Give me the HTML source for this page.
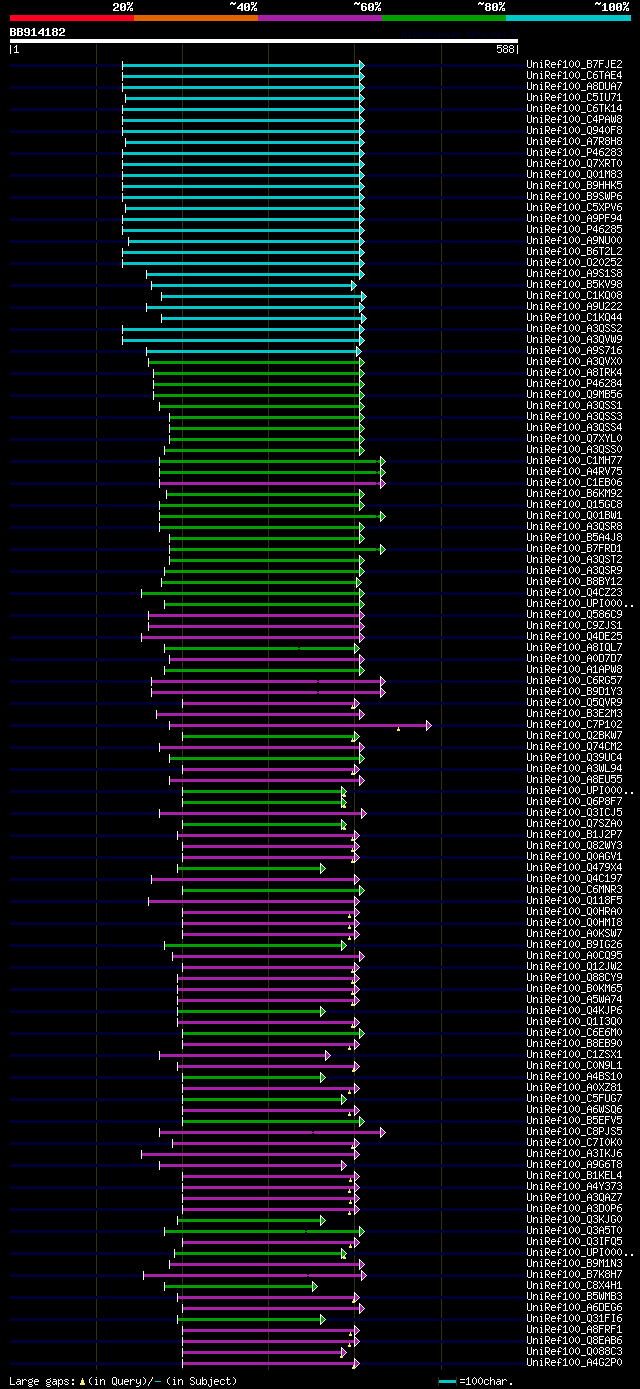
<!DOCTYPE html>
<html><head><meta charset="utf-8"><title>AlignView</title>
<style>html,body{margin:0;padding:0;background:#000;font-family:"Liberation Sans",sans-serif}svg{display:block}</style>
</head><body>
<svg width="640" height="1389" viewBox="0 0 640 1389" shape-rendering="crispEdges" fill="#fff">
<title>AlignView.pm Beta rel.7 - BB914182 (1-588)</title>
<desc>Identity legend: 20%, ~40%, ~60%, ~80%, ~100%. Query BB914182, 1 to 588. Hits: UniRef100_B7FJE2, UniRef100_C6TAE4, UniRef100_A8DUA7, UniRef100_C5IU71, UniRef100_C6TK14, UniRef100_C4PAW8, UniRef100_Q940F8, UniRef100_A7R8H8, UniRef100_P46283, UniRef100_Q7XRT0, UniRef100_Q01M83, UniRef100_B9HHK5, UniRef100_B9SWP6, UniRef100_C5XPV6, UniRef100_A9PF94, UniRef100_P46285, UniRef100_A9NU00, UniRef100_B6T2L2, UniRef100_O20252, UniRef100_A9S1S8, UniRef100_B5KV98, UniRef100_C1KQ08, UniRef100_A9U222, UniRef100_C1KQ44, UniRef100_A3QSS2, UniRef100_A3QVW9, UniRef100_A9S716, UniRef100_A3QVX0, UniRef100_A8IRK4, UniRef100_P46284, UniRef100_Q9MB56, UniRef100_A3QSS1, UniRef100_A3QSS3, UniRef100_A3QSS4, UniRef100_Q7XYL0, UniRef100_A3QSS0, UniRef100_C1MH77, UniRef100_A4RV75, UniRef100_C1EB06, UniRef100_B6KM92, UniRef100_Q15GC8, UniRef100_Q01BW1, UniRef100_A3QSR8, UniRef100_B5A4J8, UniRef100_B7FRD1, UniRef100_A3QST2, UniRef100_A3QSR9, UniRef100_B8BY12, UniRef100_Q4CZ23, UniRef100_UPI000.., UniRef100_Q586C9, UniRef100_C9ZJS1, UniRef100_Q4DE25, UniRef100_A8IQL7, UniRef100_A0D7D7, UniRef100_A1APW8, UniRef100_C6RG57, UniRef100_B9D1Y3, UniRef100_Q5QVR9, UniRef100_B3E2M3, UniRef100_C7P102, UniRef100_Q2BKW7, UniRef100_Q74CM2, UniRef100_Q39UC4, UniRef100_A3WL94, UniRef100_A8EU55, UniRef100_UPI000.., UniRef100_Q6P8F7, UniRef100_Q3ICJ5, UniRef100_Q7SZA0, UniRef100_B1J2P7, UniRef100_Q82WY3, UniRef100_Q0AGV1, UniRef100_Q479X4, UniRef100_Q4C197, UniRef100_C6MNR3, UniRef100_Q118F5, UniRef100_Q0HRA0, UniRef100_Q0HMI8, UniRef100_A0KSW7, UniRef100_B9IG26, UniRef100_A0CQ95, UniRef100_Q12JW2, UniRef100_Q88CY9, UniRef100_B0KM65, UniRef100_A5WA74, UniRef100_Q4KJP6, UniRef100_Q1I3Q0, UniRef100_C6E6M0, UniRef100_B8EB90, UniRef100_C1ZSX1, UniRef100_C0N9L1, UniRef100_A4BS10, UniRef100_A0XZ81, UniRef100_C5FUG7, UniRef100_A6WSQ6, UniRef100_B5EFV5, UniRef100_C8PJS5, UniRef100_C7I0K0, UniRef100_A3IKJ6, UniRef100_A9G6T8, UniRef100_B1KEL4, UniRef100_A4Y373, UniRef100_A3QAZ7, UniRef100_A3D0P6, UniRef100_Q3KJG0, UniRef100_Q3A5T0, UniRef100_Q3IFQ5, UniRef100_UPI000.., UniRef100_B9M1N3, UniRef100_B7K8H7, UniRef100_C8X4H1, UniRef100_B5WMB3, UniRef100_A6DEG6, UniRef100_Q31FI6, UniRef100_A8FRF1, UniRef100_Q8EAB6, UniRef100_Q088C3, UniRef100_A4G2P0. Large gaps: (in Query)/- (in Subject). =100char.</desc>
<rect width="640" height="1389" fill="#000"/>
<defs><path id="m32" d="M1 3h4v1h-4zM0 4h2v1h-2zM4 4h2v1h-2zM0 5h2v1h-2zM4 5h2v1h-2zM4 6h2v1h-2zM2 7h3v1h-3zM1 8h2v1h-2zM0 9h2v1h-2zM0 10h6v1h-6z"/><path id="m30" d="M1 3h4v1h-4zM0 4h2v1h-2zM4 4h2v1h-2zM0 5h2v1h-2zM4 5h2v1h-2zM0 6h2v1h-2zM3 6h3v1h-3zM0 7h3v1h-3zM4 7h2v1h-2zM0 8h2v1h-2zM4 8h2v1h-2zM0 9h2v1h-2zM4 9h2v1h-2zM1 10h4v1h-4z"/><path id="m25" d="M0 2h3v1h-3zM5 2h1v1h-1zM0 3h1v1h-1zM2 3h1v1h-1zM4 3h2v1h-2zM0 4h3v1h-3zM4 4h1v1h-1zM3 5h2v1h-2zM2 6h2v1h-2zM1 7h2v1h-2zM1 8h1v1h-1zM3 8h3v1h-3zM0 9h2v1h-2zM3 9h1v1h-1zM5 9h1v1h-1zM0 10h1v1h-1zM3 10h3v1h-3z"/><path id="m7e" d="M1 2h2v1h-2zM5 2h1v1h-1zM0 3h6v1h-6zM0 4h1v1h-1zM3 4h2v1h-2z"/><path id="m34" d="M4 3h2v1h-2zM3 4h3v1h-3zM2 5h4v1h-4zM1 6h2v1h-2zM4 6h2v1h-2zM0 7h2v1h-2zM4 7h2v1h-2zM0 8h6v1h-6zM4 9h2v1h-2zM4 10h2v1h-2z"/><path id="m36" d="M1 3h4v1h-4zM0 4h2v1h-2zM4 4h2v1h-2zM0 5h2v1h-2zM0 6h5v1h-5zM0 7h2v1h-2zM4 7h2v1h-2zM0 8h2v1h-2zM4 8h2v1h-2zM0 9h2v1h-2zM4 9h2v1h-2zM1 10h4v1h-4z"/><path id="m38" d="M1 3h4v1h-4zM0 4h2v1h-2zM4 4h2v1h-2zM0 5h2v1h-2zM4 5h2v1h-2zM1 6h4v1h-4zM0 7h2v1h-2zM4 7h2v1h-2zM0 8h2v1h-2zM4 8h2v1h-2zM0 9h2v1h-2zM4 9h2v1h-2zM1 10h4v1h-4z"/><path id="m31" d="M2 3h2v1h-2zM1 4h3v1h-3zM0 5h1v1h-1zM2 5h2v1h-2zM2 6h2v1h-2zM2 7h2v1h-2zM2 8h2v1h-2zM2 9h2v1h-2zM0 10h6v1h-6z"/><path id="m42" d="M0 3h5v1h-5zM0 4h2v1h-2zM4 4h2v1h-2zM0 5h2v1h-2zM4 5h2v1h-2zM0 6h5v1h-5zM0 7h2v1h-2zM4 7h2v1h-2zM0 8h2v1h-2zM4 8h2v1h-2zM0 9h2v1h-2zM4 9h2v1h-2zM0 10h5v1h-5z"/><path id="m39" d="M1 3h4v1h-4zM0 4h2v1h-2zM4 4h2v1h-2zM0 5h2v1h-2zM4 5h2v1h-2zM0 6h2v1h-2zM4 6h2v1h-2zM1 7h5v1h-5zM4 8h2v1h-2zM0 9h2v1h-2zM4 9h2v1h-2zM1 10h4v1h-4z"/><path id="t41" d="M1 1h2v1h-2zM0 2h1v1h-1zM3 2h1v1h-1zM0 3h1v1h-1zM3 3h1v1h-1zM0 4h4v1h-4zM0 5h1v1h-1zM3 5h1v1h-1zM0 6h1v1h-1zM3 6h1v1h-1z"/><path id="t6c" d="M1 1h2v1h-2zM2 2h1v1h-1zM2 3h1v1h-1zM2 4h1v1h-1zM2 5h1v1h-1zM1 6h3v1h-3z"/><path id="t69" d="M2 1h1v1h-1zM1 3h2v1h-2zM2 4h1v1h-1zM2 5h1v1h-1zM1 6h3v1h-3z"/><path id="t67" d="M1 3h3v1h-3zM0 4h1v1h-1zM3 4h1v1h-1zM1 5h3v1h-3zM3 6h1v1h-1zM1 7h2v1h-2z"/><path id="t6e" d="M0 3h1v1h-1zM2 3h1v1h-1zM0 4h2v1h-2zM3 4h1v1h-1zM0 5h1v1h-1zM3 5h1v1h-1zM0 6h1v1h-1zM3 6h1v1h-1z"/><path id="t56" d="M0 1h1v1h-1zM3 1h1v1h-1zM0 2h1v1h-1zM3 2h1v1h-1zM0 3h1v1h-1zM3 3h1v1h-1zM0 4h1v1h-1zM3 4h1v1h-1zM1 5h2v1h-2zM1 6h2v1h-2z"/><path id="t65" d="M1 3h2v1h-2zM0 4h1v1h-1zM2 4h2v1h-2zM0 5h2v1h-2zM1 6h3v1h-3z"/><path id="t77" d="M0 3h1v1h-1zM4 3h1v1h-1zM0 4h1v1h-1zM2 4h1v1h-1zM4 4h1v1h-1zM0 5h1v1h-1zM2 5h1v1h-1zM4 5h1v1h-1zM1 6h3v1h-3z"/><path id="t2e" d="M1 5h2v1h-2zM1 6h2v1h-2z"/><path id="t70" d="M0 3h3v1h-3zM0 4h1v1h-1zM3 4h1v1h-1zM0 5h3v1h-3zM0 6h1v1h-1zM0 7h1v1h-1z"/><path id="t6d" d="M0 3h2v1h-2zM3 3h1v1h-1zM0 4h1v1h-1zM2 4h1v1h-1zM4 4h1v1h-1zM0 5h1v1h-1zM2 5h1v1h-1zM4 5h1v1h-1zM0 6h1v1h-1zM4 6h1v1h-1z"/><path id="t42" d="M0 1h3v1h-3zM0 2h1v1h-1zM3 2h1v1h-1zM0 3h3v1h-3zM0 4h1v1h-1zM3 4h1v1h-1zM0 5h1v1h-1zM3 5h1v1h-1zM0 6h3v1h-3z"/><path id="t74" d="M1 1h1v1h-1zM1 2h1v1h-1zM0 3h3v1h-3zM1 4h1v1h-1zM1 5h1v1h-1zM3 5h1v1h-1zM2 6h1v1h-1z"/><path id="t61" d="M1 3h3v1h-3zM0 4h1v1h-1zM3 4h1v1h-1zM0 5h1v1h-1zM2 5h2v1h-2zM1 6h1v1h-1zM3 6h1v1h-1z"/><path id="t72" d="M0 3h1v1h-1zM2 3h1v1h-1zM0 4h2v1h-2zM3 4h1v1h-1zM0 5h1v1h-1zM0 6h1v1h-1z"/><path id="t37" d="M0 1h4v1h-4zM3 2h1v1h-1zM2 3h1v1h-1zM2 4h1v1h-1zM1 5h1v1h-1zM1 6h1v1h-1z"/><path id="s7c" d="M2 3h1v1h-1zM2 4h1v1h-1zM2 5h1v1h-1zM2 6h1v1h-1zM2 7h1v1h-1zM2 8h1v1h-1zM2 9h1v1h-1zM2 10h1v1h-1zM2 11h1v1h-1z"/><path id="s31" d="M2 3h1v1h-1zM1 4h2v1h-2zM0 5h1v1h-1zM2 5h1v1h-1zM2 6h1v1h-1zM2 7h1v1h-1zM2 8h1v1h-1zM2 9h1v1h-1zM0 10h5v1h-5z"/><path id="s35" d="M0 3h5v1h-5zM0 4h1v1h-1zM0 5h4v1h-4zM0 6h1v1h-1zM4 6h1v1h-1zM4 7h1v1h-1zM4 8h1v1h-1zM0 9h1v1h-1zM4 9h1v1h-1zM1 10h3v1h-3z"/><path id="s38" d="M1 3h3v1h-3zM0 4h1v1h-1zM4 4h1v1h-1zM0 5h1v1h-1zM4 5h1v1h-1zM1 6h3v1h-3zM0 7h1v1h-1zM4 7h1v1h-1zM0 8h1v1h-1zM4 8h1v1h-1zM0 9h1v1h-1zM4 9h1v1h-1zM1 10h3v1h-3z"/><path id="s55" d="M0 3h1v1h-1zM4 3h1v1h-1zM0 4h1v1h-1zM4 4h1v1h-1zM0 5h1v1h-1zM4 5h1v1h-1zM0 6h1v1h-1zM4 6h1v1h-1zM0 7h1v1h-1zM4 7h1v1h-1zM0 8h1v1h-1zM4 8h1v1h-1zM0 9h1v1h-1zM4 9h1v1h-1zM1 10h3v1h-3z"/><path id="s42" d="M0 3h4v1h-4zM0 4h1v1h-1zM4 4h1v1h-1zM0 5h1v1h-1zM4 5h1v1h-1zM0 6h4v1h-4zM0 7h1v1h-1zM4 7h1v1h-1zM0 8h1v1h-1zM4 8h1v1h-1zM0 9h1v1h-1zM4 9h1v1h-1zM0 10h4v1h-4z"/><path id="s37" d="M0 3h5v1h-5zM4 4h1v1h-1zM3 5h1v1h-1zM3 6h1v1h-1zM2 7h1v1h-1zM2 8h1v1h-1zM1 9h1v1h-1zM1 10h1v1h-1z"/><path id="s46" d="M0 3h5v1h-5zM0 4h1v1h-1zM0 5h1v1h-1zM0 6h4v1h-4zM0 7h1v1h-1zM0 8h1v1h-1zM0 9h1v1h-1zM0 10h1v1h-1z"/><path id="s4a" d="M3 3h1v1h-1zM3 4h1v1h-1zM3 5h1v1h-1zM3 6h1v1h-1zM3 7h1v1h-1zM3 8h1v1h-1zM0 9h1v1h-1zM3 9h1v1h-1zM1 10h2v1h-2z"/><path id="s45" d="M0 3h5v1h-5zM0 4h1v1h-1zM0 5h1v1h-1zM0 6h4v1h-4zM0 7h1v1h-1zM0 8h1v1h-1zM0 9h1v1h-1zM0 10h5v1h-5z"/><path id="s32" d="M1 3h3v1h-3zM0 4h1v1h-1zM4 4h1v1h-1zM4 5h1v1h-1zM3 6h1v1h-1zM2 7h1v1h-1zM1 8h1v1h-1zM0 9h1v1h-1zM0 10h5v1h-5z"/><path id="s43" d="M1 3h3v1h-3zM0 4h1v1h-1zM4 4h1v1h-1zM0 5h1v1h-1zM0 6h1v1h-1zM0 7h1v1h-1zM0 8h1v1h-1zM0 9h1v1h-1zM4 9h1v1h-1zM1 10h3v1h-3z"/><path id="s36" d="M2 3h3v1h-3zM1 4h1v1h-1zM0 5h1v1h-1zM0 6h4v1h-4zM0 7h1v1h-1zM4 7h1v1h-1zM0 8h1v1h-1zM4 8h1v1h-1zM0 9h1v1h-1zM4 9h1v1h-1zM1 10h3v1h-3z"/><path id="s54" d="M0 3h5v1h-5zM2 4h1v1h-1zM2 5h1v1h-1zM2 6h1v1h-1zM2 7h1v1h-1zM2 8h1v1h-1zM2 9h1v1h-1zM2 10h1v1h-1z"/><path id="s41" d="M2 3h1v1h-1zM1 4h1v1h-1zM3 4h1v1h-1zM0 5h1v1h-1zM4 5h1v1h-1zM0 6h1v1h-1zM4 6h1v1h-1zM0 7h5v1h-5zM0 8h1v1h-1zM4 8h1v1h-1zM0 9h1v1h-1zM4 9h1v1h-1zM0 10h1v1h-1zM4 10h1v1h-1z"/><path id="s34" d="M3 3h1v1h-1zM2 4h2v1h-2zM1 5h1v1h-1zM3 5h1v1h-1zM0 6h1v1h-1zM3 6h1v1h-1zM0 7h1v1h-1zM3 7h1v1h-1zM0 8h5v1h-5zM3 9h1v1h-1zM3 10h1v1h-1z"/><path id="s44" d="M0 3h4v1h-4zM0 4h1v1h-1zM4 4h1v1h-1zM0 5h1v1h-1zM4 5h1v1h-1zM0 6h1v1h-1zM4 6h1v1h-1zM0 7h1v1h-1zM4 7h1v1h-1zM0 8h1v1h-1zM4 8h1v1h-1zM0 9h1v1h-1zM4 9h1v1h-1zM0 10h4v1h-4z"/><path id="s49" d="M1 3h3v1h-3zM2 4h1v1h-1zM2 5h1v1h-1zM2 6h1v1h-1zM2 7h1v1h-1zM2 8h1v1h-1zM2 9h1v1h-1zM1 10h3v1h-3z"/><path id="s4b" d="M0 3h1v1h-1zM4 3h1v1h-1zM0 4h1v1h-1zM4 4h1v1h-1zM0 5h1v1h-1zM3 5h1v1h-1zM0 6h1v1h-1zM2 6h1v1h-1zM0 7h3v1h-3zM0 8h1v1h-1zM3 8h1v1h-1zM0 9h1v1h-1zM4 9h1v1h-1zM0 10h1v1h-1zM4 10h1v1h-1z"/><path id="s50" d="M0 3h4v1h-4zM0 4h1v1h-1zM4 4h1v1h-1zM0 5h1v1h-1zM4 5h1v1h-1zM0 6h1v1h-1zM4 6h1v1h-1zM0 7h4v1h-4zM0 8h1v1h-1zM0 9h1v1h-1zM0 10h1v1h-1z"/><path id="s57" d="M0 3h1v1h-1zM4 3h1v1h-1zM0 4h1v1h-1zM4 4h1v1h-1zM0 5h1v1h-1zM2 5h1v1h-1zM4 5h1v1h-1zM0 6h1v1h-1zM2 6h1v1h-1zM4 6h1v1h-1zM0 7h1v1h-1zM2 7h1v1h-1zM4 7h1v1h-1zM0 8h1v1h-1zM2 8h1v1h-1zM4 8h1v1h-1zM0 9h2v1h-2zM3 9h2v1h-2zM1 10h1v1h-1zM3 10h1v1h-1z"/><path id="s51" d="M1 3h3v1h-3zM0 4h1v1h-1zM4 4h1v1h-1zM0 5h1v1h-1zM4 5h1v1h-1zM0 6h1v1h-1zM4 6h1v1h-1zM0 7h1v1h-1zM4 7h1v1h-1zM0 8h1v1h-1zM4 8h1v1h-1zM0 9h1v1h-1zM2 9h1v1h-1zM4 9h1v1h-1zM1 10h3v1h-3zM4 11h1v1h-1z"/><path id="s39" d="M1 3h3v1h-3zM0 4h1v1h-1zM4 4h1v1h-1zM0 5h1v1h-1zM4 5h1v1h-1zM0 6h1v1h-1zM4 6h1v1h-1zM1 7h4v1h-4zM4 8h1v1h-1zM3 9h1v1h-1zM0 10h3v1h-3z"/><path id="s30" d="M2 3h1v1h-1zM1 4h1v1h-1zM3 4h1v1h-1zM0 5h1v1h-1zM4 5h1v1h-1zM0 6h1v1h-1zM4 6h1v1h-1zM0 7h1v1h-1zM4 7h1v1h-1zM0 8h1v1h-1zM4 8h1v1h-1zM1 9h1v1h-1zM3 9h1v1h-1zM2 10h1v1h-1z"/><path id="s52" d="M0 3h4v1h-4zM0 4h1v1h-1zM4 4h1v1h-1zM0 5h1v1h-1zM4 5h1v1h-1zM0 6h1v1h-1zM4 6h1v1h-1zM0 7h4v1h-4zM0 8h1v1h-1zM2 8h1v1h-1zM0 9h1v1h-1zM3 9h1v1h-1zM0 10h1v1h-1zM4 10h1v1h-1z"/><path id="s48" d="M0 3h1v1h-1zM4 3h1v1h-1zM0 4h1v1h-1zM4 4h1v1h-1zM0 5h1v1h-1zM4 5h1v1h-1zM0 6h5v1h-5zM0 7h1v1h-1zM4 7h1v1h-1zM0 8h1v1h-1zM4 8h1v1h-1zM0 9h1v1h-1zM4 9h1v1h-1zM0 10h1v1h-1zM4 10h1v1h-1z"/><path id="s33" d="M1 3h3v1h-3zM0 4h1v1h-1zM4 4h1v1h-1zM4 5h1v1h-1zM2 6h2v1h-2zM4 7h1v1h-1zM4 8h1v1h-1zM0 9h1v1h-1zM4 9h1v1h-1zM1 10h3v1h-3z"/><path id="s58" d="M0 3h1v1h-1zM4 3h1v1h-1zM0 4h1v1h-1zM4 4h1v1h-1zM1 5h1v1h-1zM3 5h1v1h-1zM2 6h1v1h-1zM2 7h1v1h-1zM1 8h1v1h-1zM3 8h1v1h-1zM0 9h1v1h-1zM4 9h1v1h-1zM0 10h1v1h-1zM4 10h1v1h-1z"/><path id="s4d" d="M0 3h1v1h-1zM4 3h1v1h-1zM0 4h2v1h-2zM3 4h2v1h-2zM0 5h1v1h-1zM2 5h1v1h-1zM4 5h1v1h-1zM0 6h1v1h-1zM2 6h1v1h-1zM4 6h1v1h-1zM0 7h1v1h-1zM4 7h1v1h-1zM0 8h1v1h-1zM4 8h1v1h-1zM0 9h1v1h-1zM4 9h1v1h-1zM0 10h1v1h-1zM4 10h1v1h-1z"/><path id="s53" d="M1 3h3v1h-3zM0 4h1v1h-1zM4 4h1v1h-1zM0 5h1v1h-1zM1 6h2v1h-2zM3 7h1v1h-1zM4 8h1v1h-1zM0 9h1v1h-1zM4 9h1v1h-1zM1 10h3v1h-3z"/><path id="s56" d="M0 3h1v1h-1zM4 3h1v1h-1zM0 4h1v1h-1zM4 4h1v1h-1zM0 5h1v1h-1zM4 5h1v1h-1zM1 6h1v1h-1zM3 6h1v1h-1zM1 7h1v1h-1zM3 7h1v1h-1zM1 8h1v1h-1zM3 8h1v1h-1zM2 9h1v1h-1zM2 10h1v1h-1z"/><path id="s4e" d="M0 3h1v1h-1zM4 3h1v1h-1zM0 4h2v1h-2zM4 4h1v1h-1zM0 5h2v1h-2zM4 5h1v1h-1zM0 6h1v1h-1zM2 6h1v1h-1zM4 6h1v1h-1zM0 7h1v1h-1zM2 7h1v1h-1zM4 7h1v1h-1zM0 8h1v1h-1zM3 8h2v1h-2zM0 9h1v1h-1zM3 9h2v1h-2zM0 10h1v1h-1zM4 10h1v1h-1z"/><path id="s4c" d="M0 3h1v1h-1zM0 4h1v1h-1zM0 5h1v1h-1zM0 6h1v1h-1zM0 7h1v1h-1zM0 8h1v1h-1zM0 9h1v1h-1zM0 10h5v1h-5z"/><path id="s4f" d="M1 3h3v1h-3zM0 4h1v1h-1zM4 4h1v1h-1zM0 5h1v1h-1zM4 5h1v1h-1zM0 6h1v1h-1zM4 6h1v1h-1zM0 7h1v1h-1zM4 7h1v1h-1zM0 8h1v1h-1zM4 8h1v1h-1zM0 9h1v1h-1zM4 9h1v1h-1zM1 10h3v1h-3z"/><path id="s59" d="M0 3h1v1h-1zM4 3h1v1h-1zM0 4h1v1h-1zM4 4h1v1h-1zM1 5h1v1h-1zM3 5h1v1h-1zM1 6h1v1h-1zM3 6h1v1h-1zM2 7h1v1h-1zM2 8h1v1h-1zM2 9h1v1h-1zM2 10h1v1h-1z"/><path id="s47" d="M1 3h3v1h-3zM0 4h1v1h-1zM4 4h1v1h-1zM0 5h1v1h-1zM0 6h1v1h-1zM0 7h1v1h-1zM3 7h2v1h-2zM0 8h1v1h-1zM4 8h1v1h-1zM0 9h1v1h-1zM4 9h1v1h-1zM1 10h3v1h-3z"/><path id="s5a" d="M0 3h5v1h-5zM4 4h1v1h-1zM3 5h1v1h-1zM2 6h1v1h-1zM2 7h1v1h-1zM1 8h1v1h-1zM0 9h1v1h-1zM0 10h5v1h-5z"/><path id="s2e" d="M2 9h2v1h-2zM2 10h2v1h-2z"/><path id="s61" d="M1 5h3v1h-3zM4 6h1v1h-1zM1 7h4v1h-4zM0 8h1v1h-1zM4 8h1v1h-1zM0 9h1v1h-1zM3 9h2v1h-2zM1 10h2v1h-2zM4 10h1v1h-1z"/><path id="s72" d="M0 5h1v1h-1zM2 5h2v1h-2zM0 6h2v1h-2zM4 6h1v1h-1zM0 7h1v1h-1zM0 8h1v1h-1zM0 9h1v1h-1zM0 10h1v1h-1z"/><path id="s67" d="M4 4h1v1h-1zM1 5h3v1h-3zM0 6h1v1h-1zM4 6h1v1h-1zM0 7h1v1h-1zM4 7h1v1h-1zM1 8h3v1h-3zM0 9h1v1h-1zM1 10h3v1h-3zM0 11h1v1h-1zM4 11h1v1h-1zM1 12h3v1h-3z"/><path id="s65" d="M1 5h3v1h-3zM0 6h1v1h-1zM4 6h1v1h-1zM0 7h5v1h-5zM0 8h1v1h-1zM0 9h1v1h-1zM1 10h3v1h-3z"/><path id="s70" d="M0 5h1v1h-1zM2 5h2v1h-2zM0 6h2v1h-2zM4 6h1v1h-1zM0 7h1v1h-1zM4 7h1v1h-1zM0 8h1v1h-1zM4 8h1v1h-1zM0 9h2v1h-2zM4 9h1v1h-1zM0 10h1v1h-1zM2 10h2v1h-2zM0 11h1v1h-1zM0 12h1v1h-1z"/><path id="s73" d="M1 5h3v1h-3zM0 6h1v1h-1zM4 6h1v1h-1zM1 7h2v1h-2zM3 8h1v1h-1zM0 9h1v1h-1zM4 9h1v1h-1zM1 10h3v1h-3z"/><path id="s3a" d="M2 5h2v1h-2zM2 6h2v1h-2zM2 9h2v1h-2zM2 10h2v1h-2z"/><path id="s28" d="M3 3h1v1h-1zM2 4h1v1h-1zM1 5h1v1h-1zM1 6h1v1h-1zM1 7h1v1h-1zM1 8h1v1h-1zM2 9h1v1h-1zM3 10h1v1h-1z"/><path id="s69" d="M2 3h1v1h-1zM1 5h2v1h-2zM2 6h1v1h-1zM2 7h1v1h-1zM2 8h1v1h-1zM2 9h1v1h-1zM1 10h3v1h-3z"/><path id="s6e" d="M0 5h1v1h-1zM2 5h2v1h-2zM0 6h2v1h-2zM4 6h1v1h-1zM0 7h1v1h-1zM4 7h1v1h-1zM0 8h1v1h-1zM4 8h1v1h-1zM0 9h1v1h-1zM4 9h1v1h-1zM0 10h1v1h-1zM4 10h1v1h-1z"/><path id="s75" d="M0 5h1v1h-1zM4 5h1v1h-1zM0 6h1v1h-1zM4 6h1v1h-1zM0 7h1v1h-1zM4 7h1v1h-1zM0 8h1v1h-1zM4 8h1v1h-1zM0 9h1v1h-1zM3 9h2v1h-2zM1 10h2v1h-2zM4 10h1v1h-1z"/><path id="s79" d="M0 5h1v1h-1zM4 5h1v1h-1zM0 6h1v1h-1zM4 6h1v1h-1zM0 7h1v1h-1zM4 7h1v1h-1zM0 8h1v1h-1zM3 8h2v1h-2zM1 9h2v1h-2zM4 9h1v1h-1zM4 10h1v1h-1zM3 11h1v1h-1zM0 12h3v1h-3z"/><path id="s29" d="M1 3h1v1h-1zM2 4h1v1h-1zM3 5h1v1h-1zM3 6h1v1h-1zM3 7h1v1h-1zM3 8h1v1h-1zM2 9h1v1h-1zM1 10h1v1h-1z"/><path id="s2f" d="M4 3h1v1h-1zM4 4h1v1h-1zM3 5h1v1h-1zM3 6h1v1h-1zM2 7h1v1h-1zM1 8h1v1h-1zM1 9h1v1h-1zM0 10h1v1h-1zM0 11h1v1h-1z"/><path id="s62" d="M0 3h1v1h-1zM0 4h1v1h-1zM0 5h1v1h-1zM2 5h2v1h-2zM0 6h2v1h-2zM4 6h1v1h-1zM0 7h1v1h-1zM4 7h1v1h-1zM0 8h1v1h-1zM4 8h1v1h-1zM0 9h2v1h-2zM4 9h1v1h-1zM0 10h1v1h-1zM2 10h2v1h-2z"/><path id="s6a" d="M3 3h1v1h-1zM2 5h2v1h-2zM3 6h1v1h-1zM3 7h1v1h-1zM3 8h1v1h-1zM3 9h1v1h-1zM0 10h1v1h-1zM3 10h1v1h-1zM0 11h1v1h-1zM3 11h1v1h-1zM1 12h2v1h-2z"/><path id="s63" d="M1 5h3v1h-3zM0 6h1v1h-1zM4 6h1v1h-1zM0 7h1v1h-1zM0 8h1v1h-1zM0 9h1v1h-1zM4 9h1v1h-1zM1 10h3v1h-3z"/><path id="s74" d="M1 3h1v1h-1zM1 4h1v1h-1zM0 5h4v1h-4zM1 6h1v1h-1zM1 7h1v1h-1zM1 8h1v1h-1zM1 9h1v1h-1zM4 9h1v1h-1zM2 10h2v1h-2z"/><path id="s3d" d="M0 5h5v1h-5zM0 8h5v1h-5z"/><path id="s68" d="M0 3h1v1h-1zM0 4h1v1h-1zM0 5h1v1h-1zM2 5h2v1h-2zM0 6h2v1h-2zM4 6h1v1h-1zM0 7h1v1h-1zM4 7h1v1h-1zM0 8h1v1h-1zM4 8h1v1h-1zM0 9h1v1h-1zM4 9h1v1h-1zM0 10h1v1h-1zM4 10h1v1h-1z"/><path id="s66" d="M2 3h2v1h-2zM1 4h1v1h-1zM4 4h1v1h-1zM1 5h1v1h-1zM1 6h1v1h-1zM0 7h4v1h-4zM1 8h1v1h-1zM1 9h1v1h-1zM1 10h1v1h-1z"/><path id="s5f" d="M0 11h5v1h-5z"/><g id="pre"><use href="#s55" x="0"/><use href="#s6e" x="6"/><use href="#s69" x="12"/><use href="#s52" x="18"/><use href="#s65" x="24"/><use href="#s66" x="30"/><use href="#s31" x="36"/><use href="#s30" x="42"/><use href="#s30" x="48"/><use href="#s5f" x="54"/></g><path id="ao" d="M0 -5h1v11h-1zM1 -4h1v1h-1zM1 4h1v1h-1zM2 -3h1v1h-1zM2 3h1v1h-1zM3 -2h1v1h-1zM3 2h1v1h-1zM4 -1h1v1h-1zM4 1h1v1h-1zM5 0h1v1h-1z"/><path id="af" d="M1 -3h1v7h-1zM2 -2h1v5h-1zM3 -1h1v3h-1zM4 0h1v1h-1z"/></defs>
<rect x="10" y="15" width="124" height="6" fill="#ff0020"/>
<use href="#m32" x="113" y="0"/><use href="#m30" x="120" y="0"/><use href="#m25" x="127" y="0"/>
<rect x="134" y="15" width="124" height="6" fill="#e06400"/>
<use href="#m7e" x="230" y="0"/><use href="#m34" x="237" y="0"/><use href="#m30" x="244" y="0"/><use href="#m25" x="251" y="0"/>
<rect x="258" y="15" width="124" height="6" fill="#a820a8"/>
<use href="#m7e" x="354" y="0"/><use href="#m36" x="361" y="0"/><use href="#m30" x="368" y="0"/><use href="#m25" x="375" y="0"/>
<rect x="382" y="15" width="124" height="6" fill="#00a000"/>
<use href="#m7e" x="478" y="0"/><use href="#m38" x="485" y="0"/><use href="#m30" x="492" y="0"/><use href="#m25" x="499" y="0"/>
<rect x="506" y="15" width="125" height="6" fill="#00c8c8"/>
<use href="#m7e" x="595" y="0"/><use href="#m31" x="602" y="0"/><use href="#m30" x="609" y="0"/><use href="#m30" x="616" y="0"/><use href="#m25" x="623" y="0"/>
<use href="#m42" x="10" y="25"/><use href="#m42" x="17" y="25"/><use href="#m39" x="24" y="25"/><use href="#m31" x="31" y="25"/><use href="#m34" x="38" y="25"/><use href="#m31" x="45" y="25"/><use href="#m38" x="52" y="25"/><use href="#m32" x="59" y="25"/>
<g fill="#000034"><use href="#t41" x="402" y="30"/><use href="#t6c" x="407" y="30"/><use href="#t69" x="412" y="30"/><use href="#t67" x="417" y="30"/><use href="#t6e" x="422" y="30"/><use href="#t56" x="427" y="30"/><use href="#t69" x="432" y="30"/><use href="#t65" x="437" y="30"/><use href="#t77" x="442" y="30"/><use href="#t2e" x="447" y="30"/><use href="#t70" x="452" y="30"/><use href="#t6d" x="457" y="30"/><use href="#t42" x="467" y="30"/><use href="#t65" x="472" y="30"/><use href="#t74" x="477" y="30"/><use href="#t61" x="482" y="30"/><use href="#t72" x="492" y="30"/><use href="#t65" x="497" y="30"/><use href="#t6c" x="502" y="30"/><use href="#t2e" x="507" y="30"/><use href="#t37" x="512" y="30"/></g>
<rect x="10" y="39" width="508" height="4" fill="#fff"/>
<use href="#s7c" x="8" y="42"/><use href="#s31" x="14" y="42"/>
<use href="#s35" x="497" y="42"/><use href="#s38" x="503" y="42"/><use href="#s38" x="509" y="42"/><use href="#s7c" x="515" y="42"/>
<rect x="96" y="44" width="1" height="1326" fill="#333300"/>
<rect x="182" y="44" width="1" height="1326" fill="#333300"/>
<rect x="268" y="44" width="1" height="1326" fill="#333300"/>
<rect x="354" y="44" width="1" height="1326" fill="#333300"/>
<rect x="441" y="44" width="1" height="1326" fill="#333300"/>
<path fill="#000034" d="M10 64h112v3h-112zM365 64h162v3h-162zM10 86h112v3h-112zM365 86h162v3h-162zM10 108h112v3h-112zM365 108h162v3h-162zM10 130h112v3h-112zM365 130h162v3h-162zM10 152h112v3h-112zM365 152h162v3h-162zM10 174h112v3h-112zM365 174h162v3h-162zM10 196h112v3h-112zM365 196h162v3h-162zM10 218h112v3h-112zM365 218h162v3h-162zM10 240h118v3h-118zM365 240h162v3h-162zM10 262h112v3h-112zM365 262h162v3h-162zM10 284h141v3h-141zM357 284h170v3h-170zM10 306h136v3h-136zM365 306h162v3h-162zM10 328h112v3h-112zM365 328h162v3h-162zM10 350h136v3h-136zM362 350h165v3h-165zM10 372h143v3h-143zM365 372h162v3h-162zM10 394h143v3h-143zM365 394h162v3h-162zM10 416h159v3h-159zM365 416h162v3h-162zM10 438h159v3h-159zM365 438h162v3h-162zM10 460h149v3h-149zM386 460h141v3h-141zM10 482h149v3h-149zM386 482h141v3h-141zM10 504h149v3h-149zM365 504h162v3h-162zM10 526h149v3h-149zM365 526h162v3h-162zM10 548h159v3h-159zM386 548h141v3h-141zM10 570h154v3h-154zM365 570h162v3h-162zM10 592h131v3h-131zM365 592h162v3h-162zM10 614h138v3h-138zM365 614h162v3h-162zM10 636h131v3h-131zM365 636h162v3h-162zM10 658h159v3h-159zM365 658h162v3h-162zM10 680h141v3h-141zM386 680h141v3h-141zM10 702h172v3h-172zM360 702h167v3h-167zM10 724h159v3h-159zM432 724h95v3h-95zM10 746h149v3h-149zM365 746h162v3h-162zM10 768h172v3h-172zM360 768h167v3h-167zM10 790h172v3h-172zM347 790h180v3h-180zM10 812h149v3h-149zM367 812h160v3h-160zM10 834h167v3h-167zM360 834h167v3h-167zM10 856h172v3h-172zM360 856h167v3h-167zM10 878h141v3h-141zM360 878h167v3h-167zM10 900h138v3h-138zM360 900h167v3h-167zM10 922h172v3h-172zM360 922h167v3h-167zM10 944h154v3h-154zM347 944h180v3h-180zM10 966h172v3h-172zM360 966h167v3h-167zM10 988h167v3h-167zM360 988h167v3h-167zM10 1010h167v3h-167zM326 1010h201v3h-201zM10 1032h172v3h-172zM365 1032h162v3h-162zM10 1054h149v3h-149zM331 1054h196v3h-196zM10 1076h172v3h-172zM326 1076h201v3h-201zM10 1098h172v3h-172zM347 1098h180v3h-180zM10 1120h172v3h-172zM365 1120h162v3h-162zM10 1142h162v3h-162zM360 1142h167v3h-167zM10 1164h149v3h-149zM347 1164h180v3h-180zM10 1186h172v3h-172zM360 1186h167v3h-167zM10 1208h172v3h-172zM360 1208h167v3h-167zM10 1230h154v3h-154zM365 1230h162v3h-162zM10 1252h164v3h-164zM347 1252h180v3h-180zM10 1274h133v3h-133zM367 1274h160v3h-160zM10 1296h167v3h-167zM360 1296h167v3h-167zM10 1318h167v3h-167zM326 1318h201v3h-201zM10 1340h172v3h-172zM360 1340h167v3h-167zM10 1362h172v3h-172zM360 1362h167v3h-167z"/>
<path fill="#00c8c8" d="M123 64h236v3h-236zM123 75h236v3h-236zM123 86h236v3h-236zM126 97h233v3h-233zM123 108h236v3h-236zM123 119h236v3h-236zM123 130h236v3h-236zM126 141h233v3h-233zM123 152h236v3h-236zM123 163h236v3h-236zM123 174h236v3h-236zM123 185h236v3h-236zM123 196h236v3h-236zM126 207h233v3h-233zM123 218h236v3h-236zM123 229h236v3h-236zM129 240h230v3h-230zM123 251h236v3h-236zM123 262h236v3h-236zM147 273h212v3h-212zM152 284h199v3h-199zM162 295h199v3h-199zM147 306h212v3h-212zM162 317h199v3h-199zM123 328h236v3h-236zM123 339h236v3h-236zM147 350h209v3h-209z"/>
<path fill="#00a000" d="M149 361h210v3h-210zM154 372h205v3h-205zM154 383h205v3h-205zM154 394h205v3h-205zM160 405h199v3h-199zM170 416h189v3h-189zM170 427h189v3h-189zM170 438h189v3h-189zM165 449h194v3h-194zM160 460h216v3h-216zM376 461h2v1h-2zM378 460h2v3h-2zM160 471h216v3h-216zM376 472h2v1h-2zM378 471h2v3h-2zM167 493h192v3h-192zM160 504h199v3h-199zM160 515h216v3h-216zM376 516h2v1h-2zM378 515h2v3h-2zM160 526h199v3h-199zM170 537h189v3h-189zM170 548h206v3h-206zM376 549h2v1h-2zM378 548h2v3h-2zM170 559h189v3h-189zM165 570h194v3h-194zM162 581h194v3h-194zM142 592h217v3h-217zM165 603h194v3h-194zM165 647h133v3h-133zM298 648h2v1h-2zM300 647h54v3h-54zM165 669h194v3h-194zM183 735h171v3h-171zM170 757h189v3h-189zM183 790h158v3h-158zM183 801h158v3h-158zM183 823h158v3h-158zM178 867h142v3h-142zM183 889h176v3h-176zM165 944h176v3h-176zM178 1010h142v3h-142zM183 1032h176v3h-176zM183 1076h137v3h-137zM183 1098h158v3h-158zM183 1120h176v3h-176zM178 1219h142v3h-142zM165 1230h140v3h-140zM305 1231h2v1h-2zM307 1230h52v3h-52zM175 1252h166v3h-166zM165 1285h147v3h-147zM178 1318h142v3h-142z"/>
<path fill="#a820a8" d="M160 482h216v3h-216zM376 483h2v1h-2zM378 482h2v3h-2zM149 614h210v3h-210zM149 625h210v3h-210zM142 636h217v3h-217zM170 658h189v3h-189zM152 680h165v3h-165zM317 681h2v1h-2zM319 680h61v3h-61zM152 691h165v3h-165zM317 692h2v1h-2zM319 691h61v3h-61zM183 702h171v3h-171zM157 713h202v3h-202zM170 724h256v3h-256zM160 746h199v3h-199zM183 768h171v3h-171zM170 779h189v3h-189zM160 812h201v3h-201zM178 834h176v3h-176zM183 845h171v3h-171zM183 856h171v3h-171zM152 878h202v3h-202zM149 900h205v3h-205zM183 911h171v3h-171zM183 922h171v3h-171zM183 933h171v3h-171zM173 955h186v3h-186zM183 966h171v3h-171zM178 977h176v3h-176zM178 988h176v3h-176zM178 999h176v3h-176zM178 1021h176v3h-176zM183 1043h171v3h-171zM160 1054h165v3h-165zM178 1065h176v3h-176zM183 1087h171v3h-171zM183 1109h171v3h-171zM160 1131h152v3h-152zM312 1132h2v1h-2zM314 1131h66v3h-66zM173 1142h181v3h-181zM142 1153h212v3h-212zM160 1164h181v3h-181zM183 1175h171v3h-171zM183 1186h171v3h-171zM183 1197h171v3h-171zM183 1208h171v3h-171zM183 1241h171v3h-171zM170 1263h189v3h-189zM144 1274h163v3h-163zM307 1275h2v1h-2zM309 1274h52v3h-52zM178 1296h176v3h-176zM183 1307h176v3h-176zM183 1329h171v3h-171zM183 1340h171v3h-171zM183 1351h158v3h-158zM183 1362h171v3h-171z"/>
<path d="M122 61h1v9h-1zM122 72h1v9h-1zM122 83h1v9h-1zM125 94h1v9h-1zM122 105h1v9h-1zM122 116h1v9h-1zM122 127h1v9h-1zM125 138h1v9h-1zM122 149h1v9h-1zM122 160h1v9h-1zM122 171h1v9h-1zM122 182h1v9h-1zM122 193h1v9h-1zM125 204h1v9h-1zM122 215h1v9h-1zM122 226h1v9h-1zM128 237h1v9h-1zM122 248h1v9h-1zM122 259h1v9h-1zM146 270h1v9h-1zM151 281h1v9h-1zM161 292h1v9h-1zM146 303h1v9h-1zM161 314h1v9h-1zM122 325h1v9h-1zM122 336h1v9h-1zM146 347h1v9h-1zM148 358h1v9h-1zM153 369h1v9h-1zM153 380h1v9h-1zM153 391h1v9h-1zM159 402h1v9h-1zM169 413h1v9h-1zM169 424h1v9h-1zM169 435h1v9h-1zM164 446h1v9h-1zM159 457h1v9h-1zM159 468h1v9h-1zM159 479h1v9h-1zM166 490h1v9h-1zM159 501h1v9h-1zM159 512h1v9h-1zM159 523h1v9h-1zM169 534h1v9h-1zM169 545h1v9h-1zM169 556h1v9h-1zM164 567h1v9h-1zM161 578h1v9h-1zM141 589h1v9h-1zM164 600h1v9h-1zM148 611h1v9h-1zM148 622h1v9h-1zM141 633h1v9h-1zM164 644h1v9h-1zM169 655h1v9h-1zM164 666h1v9h-1zM151 677h1v9h-1zM151 688h1v9h-1zM182 699h1v9h-1zM156 710h1v9h-1zM169 721h1v9h-1zM182 732h1v9h-1zM159 743h1v9h-1zM169 754h1v9h-1zM182 765h1v9h-1zM169 776h1v9h-1zM182 787h1v9h-1zM182 798h1v9h-1zM159 809h1v9h-1zM182 820h1v9h-1zM177 831h1v9h-1zM182 842h1v9h-1zM182 853h1v9h-1zM177 864h1v9h-1zM151 875h1v9h-1zM182 886h1v9h-1zM148 897h1v9h-1zM182 908h1v9h-1zM182 919h1v9h-1zM182 930h1v9h-1zM164 941h1v9h-1zM172 952h1v9h-1zM182 963h1v9h-1zM177 974h1v9h-1zM177 985h1v9h-1zM177 996h1v9h-1zM177 1007h1v9h-1zM177 1018h1v9h-1zM182 1029h1v9h-1zM182 1040h1v9h-1zM159 1051h1v9h-1zM177 1062h1v9h-1zM182 1073h1v9h-1zM182 1084h1v9h-1zM182 1095h1v9h-1zM182 1106h1v9h-1zM182 1117h1v9h-1zM159 1128h1v9h-1zM172 1139h1v9h-1zM141 1150h1v9h-1zM159 1161h1v9h-1zM182 1172h1v9h-1zM182 1183h1v9h-1zM182 1194h1v9h-1zM182 1205h1v9h-1zM177 1216h1v9h-1zM164 1227h1v9h-1zM182 1238h1v9h-1zM174 1249h1v9h-1zM169 1260h1v9h-1zM143 1271h1v9h-1zM164 1282h1v9h-1zM177 1293h1v9h-1zM182 1304h1v9h-1zM177 1315h1v9h-1zM182 1326h1v9h-1zM182 1337h1v9h-1zM182 1348h1v9h-1zM182 1359h1v9h-1z"/>
<use href="#af" x="359" y="65" fill="#00c8c8"/><use href="#ao" x="359" y="65"/><use href="#af" x="359" y="76" fill="#00c8c8"/><use href="#ao" x="359" y="76"/><use href="#af" x="359" y="87" fill="#00c8c8"/><use href="#ao" x="359" y="87"/><use href="#af" x="359" y="98" fill="#00c8c8"/><use href="#ao" x="359" y="98"/><use href="#af" x="359" y="109" fill="#00c8c8"/><use href="#ao" x="359" y="109"/><use href="#af" x="359" y="120" fill="#00c8c8"/><use href="#ao" x="359" y="120"/><use href="#af" x="359" y="131" fill="#00c8c8"/><use href="#ao" x="359" y="131"/><use href="#af" x="359" y="142" fill="#00c8c8"/><use href="#ao" x="359" y="142"/><use href="#af" x="359" y="153" fill="#00c8c8"/><use href="#ao" x="359" y="153"/><use href="#af" x="359" y="164" fill="#00c8c8"/><use href="#ao" x="359" y="164"/><use href="#af" x="359" y="175" fill="#00c8c8"/><use href="#ao" x="359" y="175"/><use href="#af" x="359" y="186" fill="#00c8c8"/><use href="#ao" x="359" y="186"/><use href="#af" x="359" y="197" fill="#00c8c8"/><use href="#ao" x="359" y="197"/><use href="#af" x="359" y="208" fill="#00c8c8"/><use href="#ao" x="359" y="208"/><use href="#af" x="359" y="219" fill="#00c8c8"/><use href="#ao" x="359" y="219"/><use href="#af" x="359" y="230" fill="#00c8c8"/><use href="#ao" x="359" y="230"/><use href="#af" x="359" y="241" fill="#00c8c8"/><use href="#ao" x="359" y="241"/><use href="#af" x="359" y="252" fill="#00c8c8"/><use href="#ao" x="359" y="252"/><use href="#af" x="359" y="263" fill="#00c8c8"/><use href="#ao" x="359" y="263"/><use href="#af" x="359" y="274" fill="#00c8c8"/><use href="#ao" x="359" y="274"/><use href="#af" x="351" y="285" fill="#00c8c8"/><use href="#ao" x="351" y="285"/><use href="#af" x="361" y="296" fill="#00c8c8"/><use href="#ao" x="361" y="296"/><use href="#af" x="359" y="307" fill="#00c8c8"/><use href="#ao" x="359" y="307"/><use href="#af" x="361" y="318" fill="#00c8c8"/><use href="#ao" x="361" y="318"/><use href="#af" x="359" y="329" fill="#00c8c8"/><use href="#ao" x="359" y="329"/><use href="#af" x="359" y="340" fill="#00c8c8"/><use href="#ao" x="359" y="340"/><use href="#af" x="356" y="351" fill="#00c8c8"/><use href="#ao" x="356" y="351"/><use href="#af" x="359" y="362" fill="#00a000"/><use href="#ao" x="359" y="362"/><use href="#af" x="359" y="373" fill="#00a000"/><use href="#ao" x="359" y="373"/><use href="#af" x="359" y="384" fill="#00a000"/><use href="#ao" x="359" y="384"/><use href="#af" x="359" y="395" fill="#00a000"/><use href="#ao" x="359" y="395"/><use href="#af" x="359" y="406" fill="#00a000"/><use href="#ao" x="359" y="406"/><use href="#af" x="359" y="417" fill="#00a000"/><use href="#ao" x="359" y="417"/><use href="#af" x="359" y="428" fill="#00a000"/><use href="#ao" x="359" y="428"/><use href="#af" x="359" y="439" fill="#00a000"/><use href="#ao" x="359" y="439"/><use href="#af" x="359" y="450" fill="#00a000"/><use href="#ao" x="359" y="450"/><use href="#af" x="380" y="461" fill="#00a000"/><use href="#ao" x="380" y="461"/><use href="#af" x="380" y="472" fill="#00a000"/><use href="#ao" x="380" y="472"/><use href="#af" x="380" y="483" fill="#a820a8"/><use href="#ao" x="380" y="483"/><use href="#af" x="359" y="494" fill="#00a000"/><use href="#ao" x="359" y="494"/><use href="#af" x="359" y="505" fill="#00a000"/><use href="#ao" x="359" y="505"/><use href="#af" x="380" y="516" fill="#00a000"/><use href="#ao" x="380" y="516"/><use href="#af" x="359" y="527" fill="#00a000"/><use href="#ao" x="359" y="527"/><use href="#af" x="359" y="538" fill="#00a000"/><use href="#ao" x="359" y="538"/><use href="#af" x="380" y="549" fill="#00a000"/><use href="#ao" x="380" y="549"/><use href="#af" x="359" y="560" fill="#00a000"/><use href="#ao" x="359" y="560"/><use href="#af" x="359" y="571" fill="#00a000"/><use href="#ao" x="359" y="571"/><use href="#af" x="356" y="582" fill="#00a000"/><use href="#ao" x="356" y="582"/><use href="#af" x="359" y="593" fill="#00a000"/><use href="#ao" x="359" y="593"/><use href="#af" x="359" y="604" fill="#00a000"/><use href="#ao" x="359" y="604"/><use href="#af" x="359" y="615" fill="#a820a8"/><use href="#ao" x="359" y="615"/><use href="#af" x="359" y="626" fill="#a820a8"/><use href="#ao" x="359" y="626"/><use href="#af" x="359" y="637" fill="#a820a8"/><use href="#ao" x="359" y="637"/><use href="#af" x="354" y="648" fill="#00a000"/><use href="#ao" x="354" y="648"/><use href="#af" x="359" y="659" fill="#a820a8"/><use href="#ao" x="359" y="659"/><use href="#af" x="359" y="670" fill="#00a000"/><use href="#ao" x="359" y="670"/><use href="#af" x="380" y="681" fill="#a820a8"/><use href="#ao" x="380" y="681"/><use href="#af" x="380" y="692" fill="#a820a8"/><use href="#ao" x="380" y="692"/><use href="#af" x="354" y="703" fill="#a820a8"/><use href="#ao" x="354" y="703"/><use href="#af" x="359" y="714" fill="#a820a8"/><use href="#ao" x="359" y="714"/><use href="#af" x="426" y="725" fill="#a820a8"/><use href="#ao" x="426" y="725"/><use href="#af" x="354" y="736" fill="#00a000"/><use href="#ao" x="354" y="736"/><use href="#af" x="359" y="747" fill="#a820a8"/><use href="#ao" x="359" y="747"/><use href="#af" x="359" y="758" fill="#00a000"/><use href="#ao" x="359" y="758"/><use href="#af" x="354" y="769" fill="#a820a8"/><use href="#ao" x="354" y="769"/><use href="#af" x="359" y="780" fill="#a820a8"/><use href="#ao" x="359" y="780"/><use href="#af" x="341" y="791" fill="#00a000"/><use href="#ao" x="341" y="791"/><use href="#af" x="341" y="802" fill="#00a000"/><use href="#ao" x="341" y="802"/><use href="#af" x="361" y="813" fill="#a820a8"/><use href="#ao" x="361" y="813"/><use href="#af" x="341" y="824" fill="#00a000"/><use href="#ao" x="341" y="824"/><use href="#af" x="354" y="835" fill="#a820a8"/><use href="#ao" x="354" y="835"/><use href="#af" x="354" y="846" fill="#a820a8"/><use href="#ao" x="354" y="846"/><use href="#af" x="354" y="857" fill="#a820a8"/><use href="#ao" x="354" y="857"/><use href="#af" x="320" y="868" fill="#00a000"/><use href="#ao" x="320" y="868"/><use href="#af" x="354" y="879" fill="#a820a8"/><use href="#ao" x="354" y="879"/><use href="#af" x="359" y="890" fill="#00a000"/><use href="#ao" x="359" y="890"/><use href="#af" x="354" y="901" fill="#a820a8"/><use href="#ao" x="354" y="901"/><use href="#af" x="354" y="912" fill="#a820a8"/><use href="#ao" x="354" y="912"/><use href="#af" x="354" y="923" fill="#a820a8"/><use href="#ao" x="354" y="923"/><use href="#af" x="354" y="934" fill="#a820a8"/><use href="#ao" x="354" y="934"/><use href="#af" x="341" y="945" fill="#00a000"/><use href="#ao" x="341" y="945"/><use href="#af" x="359" y="956" fill="#a820a8"/><use href="#ao" x="359" y="956"/><use href="#af" x="354" y="967" fill="#a820a8"/><use href="#ao" x="354" y="967"/><use href="#af" x="354" y="978" fill="#a820a8"/><use href="#ao" x="354" y="978"/><use href="#af" x="354" y="989" fill="#a820a8"/><use href="#ao" x="354" y="989"/><use href="#af" x="354" y="1000" fill="#a820a8"/><use href="#ao" x="354" y="1000"/><use href="#af" x="320" y="1011" fill="#00a000"/><use href="#ao" x="320" y="1011"/><use href="#af" x="354" y="1022" fill="#a820a8"/><use href="#ao" x="354" y="1022"/><use href="#af" x="359" y="1033" fill="#00a000"/><use href="#ao" x="359" y="1033"/><use href="#af" x="354" y="1044" fill="#a820a8"/><use href="#ao" x="354" y="1044"/><use href="#af" x="325" y="1055" fill="#a820a8"/><use href="#ao" x="325" y="1055"/><use href="#af" x="354" y="1066" fill="#a820a8"/><use href="#ao" x="354" y="1066"/><use href="#af" x="320" y="1077" fill="#00a000"/><use href="#ao" x="320" y="1077"/><use href="#af" x="354" y="1088" fill="#a820a8"/><use href="#ao" x="354" y="1088"/><use href="#af" x="341" y="1099" fill="#00a000"/><use href="#ao" x="341" y="1099"/><use href="#af" x="354" y="1110" fill="#a820a8"/><use href="#ao" x="354" y="1110"/><use href="#af" x="359" y="1121" fill="#00a000"/><use href="#ao" x="359" y="1121"/><use href="#af" x="380" y="1132" fill="#a820a8"/><use href="#ao" x="380" y="1132"/><use href="#af" x="354" y="1143" fill="#a820a8"/><use href="#ao" x="354" y="1143"/><use href="#af" x="354" y="1154" fill="#a820a8"/><use href="#ao" x="354" y="1154"/><use href="#af" x="341" y="1165" fill="#a820a8"/><use href="#ao" x="341" y="1165"/><use href="#af" x="354" y="1176" fill="#a820a8"/><use href="#ao" x="354" y="1176"/><use href="#af" x="354" y="1187" fill="#a820a8"/><use href="#ao" x="354" y="1187"/><use href="#af" x="354" y="1198" fill="#a820a8"/><use href="#ao" x="354" y="1198"/><use href="#af" x="354" y="1209" fill="#a820a8"/><use href="#ao" x="354" y="1209"/><use href="#af" x="320" y="1220" fill="#00a000"/><use href="#ao" x="320" y="1220"/><use href="#af" x="359" y="1231" fill="#00a000"/><use href="#ao" x="359" y="1231"/><use href="#af" x="354" y="1242" fill="#a820a8"/><use href="#ao" x="354" y="1242"/><use href="#af" x="341" y="1253" fill="#00a000"/><use href="#ao" x="341" y="1253"/><use href="#af" x="359" y="1264" fill="#a820a8"/><use href="#ao" x="359" y="1264"/><use href="#af" x="361" y="1275" fill="#a820a8"/><use href="#ao" x="361" y="1275"/><use href="#af" x="312" y="1286" fill="#00a000"/><use href="#ao" x="312" y="1286"/><use href="#af" x="354" y="1297" fill="#a820a8"/><use href="#ao" x="354" y="1297"/><use href="#af" x="359" y="1308" fill="#a820a8"/><use href="#ao" x="359" y="1308"/><use href="#af" x="320" y="1319" fill="#00a000"/><use href="#ao" x="320" y="1319"/><use href="#af" x="354" y="1330" fill="#a820a8"/><use href="#ao" x="354" y="1330"/><use href="#af" x="354" y="1341" fill="#a820a8"/><use href="#ao" x="354" y="1341"/><use href="#af" x="341" y="1352" fill="#a820a8"/><use href="#ao" x="341" y="1352"/><use href="#af" x="354" y="1363" fill="#a820a8"/><use href="#ao" x="354" y="1363"/>
<path fill="#f4ec68" d="M352 705h1v2h1v2h-3v-2h1zM398 727h1v2h1v2h-3v-2h1zM352 738h1v2h1v2h-3v-2h1zM352 771h1v2h1v2h-3v-2h1zM344 793h1v2h1v2h-3v-2h1zM344 804h1v2h1v2h-3v-2h1zM344 826h1v2h1v2h-3v-2h1zM352 837h1v2h1v2h-3v-2h1zM352 848h1v2h1v2h-3v-2h1zM352 859h1v2h1v2h-3v-2h1zM349 914h1v2h1v2h-3v-2h1zM349 925h1v2h1v2h-3v-2h1zM349 936h1v2h1v2h-3v-2h1zM352 969h1v2h1v2h-3v-2h1zM352 980h1v2h1v2h-3v-2h1zM352 991h1v2h1v2h-3v-2h1zM352 1002h1v2h1v2h-3v-2h1zM352 1024h1v2h1v2h-3v-2h1zM349 1046h1v2h1v2h-3v-2h1zM353 1068h1v2h1v2h-3v-2h1zM349 1090h1v2h1v2h-3v-2h1zM349 1112h1v2h1v2h-3v-2h1zM352 1145h1v2h1v2h-3v-2h1zM350 1178h1v2h1v2h-3v-2h1zM349 1189h1v2h1v2h-3v-2h1zM350 1200h1v2h1v2h-3v-2h1zM349 1211h1v2h1v2h-3v-2h1zM350 1244h1v2h1v2h-3v-2h1zM344 1255h1v2h1v2h-3v-2h1zM353 1299h1v2h1v2h-3v-2h1zM350 1332h1v2h1v2h-3v-2h1zM349 1343h1v2h1v2h-3v-2h1zM341 1354h1v2h1v2h-3v-2h1zM353 1365h1v2h1v2h-3v-2h1z"/>
<use href="#pre" x="527" y="57"/><use href="#s42" x="587" y="57"/><use href="#s37" x="593" y="57"/><use href="#s46" x="599" y="57"/><use href="#s4a" x="605" y="57"/><use href="#s45" x="611" y="57"/><use href="#s32" x="617" y="57"/>
<use href="#pre" x="527" y="68"/><use href="#s43" x="587" y="68"/><use href="#s36" x="593" y="68"/><use href="#s54" x="599" y="68"/><use href="#s41" x="605" y="68"/><use href="#s45" x="611" y="68"/><use href="#s34" x="617" y="68"/>
<use href="#pre" x="527" y="79"/><use href="#s41" x="587" y="79"/><use href="#s38" x="593" y="79"/><use href="#s44" x="599" y="79"/><use href="#s55" x="605" y="79"/><use href="#s41" x="611" y="79"/><use href="#s37" x="617" y="79"/>
<use href="#pre" x="527" y="90"/><use href="#s43" x="587" y="90"/><use href="#s35" x="593" y="90"/><use href="#s49" x="599" y="90"/><use href="#s55" x="605" y="90"/><use href="#s37" x="611" y="90"/><use href="#s31" x="617" y="90"/>
<use href="#pre" x="527" y="101"/><use href="#s43" x="587" y="101"/><use href="#s36" x="593" y="101"/><use href="#s54" x="599" y="101"/><use href="#s4b" x="605" y="101"/><use href="#s31" x="611" y="101"/><use href="#s34" x="617" y="101"/>
<use href="#pre" x="527" y="112"/><use href="#s43" x="587" y="112"/><use href="#s34" x="593" y="112"/><use href="#s50" x="599" y="112"/><use href="#s41" x="605" y="112"/><use href="#s57" x="611" y="112"/><use href="#s38" x="617" y="112"/>
<use href="#pre" x="527" y="123"/><use href="#s51" x="587" y="123"/><use href="#s39" x="593" y="123"/><use href="#s34" x="599" y="123"/><use href="#s30" x="605" y="123"/><use href="#s46" x="611" y="123"/><use href="#s38" x="617" y="123"/>
<use href="#pre" x="527" y="134"/><use href="#s41" x="587" y="134"/><use href="#s37" x="593" y="134"/><use href="#s52" x="599" y="134"/><use href="#s38" x="605" y="134"/><use href="#s48" x="611" y="134"/><use href="#s38" x="617" y="134"/>
<use href="#pre" x="527" y="145"/><use href="#s50" x="587" y="145"/><use href="#s34" x="593" y="145"/><use href="#s36" x="599" y="145"/><use href="#s32" x="605" y="145"/><use href="#s38" x="611" y="145"/><use href="#s33" x="617" y="145"/>
<use href="#pre" x="527" y="156"/><use href="#s51" x="587" y="156"/><use href="#s37" x="593" y="156"/><use href="#s58" x="599" y="156"/><use href="#s52" x="605" y="156"/><use href="#s54" x="611" y="156"/><use href="#s30" x="617" y="156"/>
<use href="#pre" x="527" y="167"/><use href="#s51" x="587" y="167"/><use href="#s30" x="593" y="167"/><use href="#s31" x="599" y="167"/><use href="#s4d" x="605" y="167"/><use href="#s38" x="611" y="167"/><use href="#s33" x="617" y="167"/>
<use href="#pre" x="527" y="178"/><use href="#s42" x="587" y="178"/><use href="#s39" x="593" y="178"/><use href="#s48" x="599" y="178"/><use href="#s48" x="605" y="178"/><use href="#s4b" x="611" y="178"/><use href="#s35" x="617" y="178"/>
<use href="#pre" x="527" y="189"/><use href="#s42" x="587" y="189"/><use href="#s39" x="593" y="189"/><use href="#s53" x="599" y="189"/><use href="#s57" x="605" y="189"/><use href="#s50" x="611" y="189"/><use href="#s36" x="617" y="189"/>
<use href="#pre" x="527" y="200"/><use href="#s43" x="587" y="200"/><use href="#s35" x="593" y="200"/><use href="#s58" x="599" y="200"/><use href="#s50" x="605" y="200"/><use href="#s56" x="611" y="200"/><use href="#s36" x="617" y="200"/>
<use href="#pre" x="527" y="211"/><use href="#s41" x="587" y="211"/><use href="#s39" x="593" y="211"/><use href="#s50" x="599" y="211"/><use href="#s46" x="605" y="211"/><use href="#s39" x="611" y="211"/><use href="#s34" x="617" y="211"/>
<use href="#pre" x="527" y="222"/><use href="#s50" x="587" y="222"/><use href="#s34" x="593" y="222"/><use href="#s36" x="599" y="222"/><use href="#s32" x="605" y="222"/><use href="#s38" x="611" y="222"/><use href="#s35" x="617" y="222"/>
<use href="#pre" x="527" y="233"/><use href="#s41" x="587" y="233"/><use href="#s39" x="593" y="233"/><use href="#s4e" x="599" y="233"/><use href="#s55" x="605" y="233"/><use href="#s30" x="611" y="233"/><use href="#s30" x="617" y="233"/>
<use href="#pre" x="527" y="244"/><use href="#s42" x="587" y="244"/><use href="#s36" x="593" y="244"/><use href="#s54" x="599" y="244"/><use href="#s32" x="605" y="244"/><use href="#s4c" x="611" y="244"/><use href="#s32" x="617" y="244"/>
<use href="#pre" x="527" y="255"/><use href="#s4f" x="587" y="255"/><use href="#s32" x="593" y="255"/><use href="#s30" x="599" y="255"/><use href="#s32" x="605" y="255"/><use href="#s35" x="611" y="255"/><use href="#s32" x="617" y="255"/>
<use href="#pre" x="527" y="266"/><use href="#s41" x="587" y="266"/><use href="#s39" x="593" y="266"/><use href="#s53" x="599" y="266"/><use href="#s31" x="605" y="266"/><use href="#s53" x="611" y="266"/><use href="#s38" x="617" y="266"/>
<use href="#pre" x="527" y="277"/><use href="#s42" x="587" y="277"/><use href="#s35" x="593" y="277"/><use href="#s4b" x="599" y="277"/><use href="#s56" x="605" y="277"/><use href="#s39" x="611" y="277"/><use href="#s38" x="617" y="277"/>
<use href="#pre" x="527" y="288"/><use href="#s43" x="587" y="288"/><use href="#s31" x="593" y="288"/><use href="#s4b" x="599" y="288"/><use href="#s51" x="605" y="288"/><use href="#s30" x="611" y="288"/><use href="#s38" x="617" y="288"/>
<use href="#pre" x="527" y="299"/><use href="#s41" x="587" y="299"/><use href="#s39" x="593" y="299"/><use href="#s55" x="599" y="299"/><use href="#s32" x="605" y="299"/><use href="#s32" x="611" y="299"/><use href="#s32" x="617" y="299"/>
<use href="#pre" x="527" y="310"/><use href="#s43" x="587" y="310"/><use href="#s31" x="593" y="310"/><use href="#s4b" x="599" y="310"/><use href="#s51" x="605" y="310"/><use href="#s34" x="611" y="310"/><use href="#s34" x="617" y="310"/>
<use href="#pre" x="527" y="321"/><use href="#s41" x="587" y="321"/><use href="#s33" x="593" y="321"/><use href="#s51" x="599" y="321"/><use href="#s53" x="605" y="321"/><use href="#s53" x="611" y="321"/><use href="#s32" x="617" y="321"/>
<use href="#pre" x="527" y="332"/><use href="#s41" x="587" y="332"/><use href="#s33" x="593" y="332"/><use href="#s51" x="599" y="332"/><use href="#s56" x="605" y="332"/><use href="#s57" x="611" y="332"/><use href="#s39" x="617" y="332"/>
<use href="#pre" x="527" y="343"/><use href="#s41" x="587" y="343"/><use href="#s39" x="593" y="343"/><use href="#s53" x="599" y="343"/><use href="#s37" x="605" y="343"/><use href="#s31" x="611" y="343"/><use href="#s36" x="617" y="343"/>
<use href="#pre" x="527" y="354"/><use href="#s41" x="587" y="354"/><use href="#s33" x="593" y="354"/><use href="#s51" x="599" y="354"/><use href="#s56" x="605" y="354"/><use href="#s58" x="611" y="354"/><use href="#s30" x="617" y="354"/>
<use href="#pre" x="527" y="365"/><use href="#s41" x="587" y="365"/><use href="#s38" x="593" y="365"/><use href="#s49" x="599" y="365"/><use href="#s52" x="605" y="365"/><use href="#s4b" x="611" y="365"/><use href="#s34" x="617" y="365"/>
<use href="#pre" x="527" y="376"/><use href="#s50" x="587" y="376"/><use href="#s34" x="593" y="376"/><use href="#s36" x="599" y="376"/><use href="#s32" x="605" y="376"/><use href="#s38" x="611" y="376"/><use href="#s34" x="617" y="376"/>
<use href="#pre" x="527" y="387"/><use href="#s51" x="587" y="387"/><use href="#s39" x="593" y="387"/><use href="#s4d" x="599" y="387"/><use href="#s42" x="605" y="387"/><use href="#s35" x="611" y="387"/><use href="#s36" x="617" y="387"/>
<use href="#pre" x="527" y="398"/><use href="#s41" x="587" y="398"/><use href="#s33" x="593" y="398"/><use href="#s51" x="599" y="398"/><use href="#s53" x="605" y="398"/><use href="#s53" x="611" y="398"/><use href="#s31" x="617" y="398"/>
<use href="#pre" x="527" y="409"/><use href="#s41" x="587" y="409"/><use href="#s33" x="593" y="409"/><use href="#s51" x="599" y="409"/><use href="#s53" x="605" y="409"/><use href="#s53" x="611" y="409"/><use href="#s33" x="617" y="409"/>
<use href="#pre" x="527" y="420"/><use href="#s41" x="587" y="420"/><use href="#s33" x="593" y="420"/><use href="#s51" x="599" y="420"/><use href="#s53" x="605" y="420"/><use href="#s53" x="611" y="420"/><use href="#s34" x="617" y="420"/>
<use href="#pre" x="527" y="431"/><use href="#s51" x="587" y="431"/><use href="#s37" x="593" y="431"/><use href="#s58" x="599" y="431"/><use href="#s59" x="605" y="431"/><use href="#s4c" x="611" y="431"/><use href="#s30" x="617" y="431"/>
<use href="#pre" x="527" y="442"/><use href="#s41" x="587" y="442"/><use href="#s33" x="593" y="442"/><use href="#s51" x="599" y="442"/><use href="#s53" x="605" y="442"/><use href="#s53" x="611" y="442"/><use href="#s30" x="617" y="442"/>
<use href="#pre" x="527" y="453"/><use href="#s43" x="587" y="453"/><use href="#s31" x="593" y="453"/><use href="#s4d" x="599" y="453"/><use href="#s48" x="605" y="453"/><use href="#s37" x="611" y="453"/><use href="#s37" x="617" y="453"/>
<use href="#pre" x="527" y="464"/><use href="#s41" x="587" y="464"/><use href="#s34" x="593" y="464"/><use href="#s52" x="599" y="464"/><use href="#s56" x="605" y="464"/><use href="#s37" x="611" y="464"/><use href="#s35" x="617" y="464"/>
<use href="#pre" x="527" y="475"/><use href="#s43" x="587" y="475"/><use href="#s31" x="593" y="475"/><use href="#s45" x="599" y="475"/><use href="#s42" x="605" y="475"/><use href="#s30" x="611" y="475"/><use href="#s36" x="617" y="475"/>
<use href="#pre" x="527" y="486"/><use href="#s42" x="587" y="486"/><use href="#s36" x="593" y="486"/><use href="#s4b" x="599" y="486"/><use href="#s4d" x="605" y="486"/><use href="#s39" x="611" y="486"/><use href="#s32" x="617" y="486"/>
<use href="#pre" x="527" y="497"/><use href="#s51" x="587" y="497"/><use href="#s31" x="593" y="497"/><use href="#s35" x="599" y="497"/><use href="#s47" x="605" y="497"/><use href="#s43" x="611" y="497"/><use href="#s38" x="617" y="497"/>
<use href="#pre" x="527" y="508"/><use href="#s51" x="587" y="508"/><use href="#s30" x="593" y="508"/><use href="#s31" x="599" y="508"/><use href="#s42" x="605" y="508"/><use href="#s57" x="611" y="508"/><use href="#s31" x="617" y="508"/>
<use href="#pre" x="527" y="519"/><use href="#s41" x="587" y="519"/><use href="#s33" x="593" y="519"/><use href="#s51" x="599" y="519"/><use href="#s53" x="605" y="519"/><use href="#s52" x="611" y="519"/><use href="#s38" x="617" y="519"/>
<use href="#pre" x="527" y="530"/><use href="#s42" x="587" y="530"/><use href="#s35" x="593" y="530"/><use href="#s41" x="599" y="530"/><use href="#s34" x="605" y="530"/><use href="#s4a" x="611" y="530"/><use href="#s38" x="617" y="530"/>
<use href="#pre" x="527" y="541"/><use href="#s42" x="587" y="541"/><use href="#s37" x="593" y="541"/><use href="#s46" x="599" y="541"/><use href="#s52" x="605" y="541"/><use href="#s44" x="611" y="541"/><use href="#s31" x="617" y="541"/>
<use href="#pre" x="527" y="552"/><use href="#s41" x="587" y="552"/><use href="#s33" x="593" y="552"/><use href="#s51" x="599" y="552"/><use href="#s53" x="605" y="552"/><use href="#s54" x="611" y="552"/><use href="#s32" x="617" y="552"/>
<use href="#pre" x="527" y="563"/><use href="#s41" x="587" y="563"/><use href="#s33" x="593" y="563"/><use href="#s51" x="599" y="563"/><use href="#s53" x="605" y="563"/><use href="#s52" x="611" y="563"/><use href="#s39" x="617" y="563"/>
<use href="#pre" x="527" y="574"/><use href="#s42" x="587" y="574"/><use href="#s38" x="593" y="574"/><use href="#s42" x="599" y="574"/><use href="#s59" x="605" y="574"/><use href="#s31" x="611" y="574"/><use href="#s32" x="617" y="574"/>
<use href="#pre" x="527" y="585"/><use href="#s51" x="587" y="585"/><use href="#s34" x="593" y="585"/><use href="#s43" x="599" y="585"/><use href="#s5a" x="605" y="585"/><use href="#s32" x="611" y="585"/><use href="#s33" x="617" y="585"/>
<use href="#pre" x="527" y="596"/><use href="#s55" x="587" y="596"/><use href="#s50" x="593" y="596"/><use href="#s49" x="599" y="596"/><use href="#s30" x="605" y="596"/><use href="#s30" x="611" y="596"/><use href="#s30" x="617" y="596"/><use href="#s2e" x="623" y="596"/><use href="#s2e" x="629" y="596"/>
<use href="#pre" x="527" y="607"/><use href="#s51" x="587" y="607"/><use href="#s35" x="593" y="607"/><use href="#s38" x="599" y="607"/><use href="#s36" x="605" y="607"/><use href="#s43" x="611" y="607"/><use href="#s39" x="617" y="607"/>
<use href="#pre" x="527" y="618"/><use href="#s43" x="587" y="618"/><use href="#s39" x="593" y="618"/><use href="#s5a" x="599" y="618"/><use href="#s4a" x="605" y="618"/><use href="#s53" x="611" y="618"/><use href="#s31" x="617" y="618"/>
<use href="#pre" x="527" y="629"/><use href="#s51" x="587" y="629"/><use href="#s34" x="593" y="629"/><use href="#s44" x="599" y="629"/><use href="#s45" x="605" y="629"/><use href="#s32" x="611" y="629"/><use href="#s35" x="617" y="629"/>
<use href="#pre" x="527" y="640"/><use href="#s41" x="587" y="640"/><use href="#s38" x="593" y="640"/><use href="#s49" x="599" y="640"/><use href="#s51" x="605" y="640"/><use href="#s4c" x="611" y="640"/><use href="#s37" x="617" y="640"/>
<use href="#pre" x="527" y="651"/><use href="#s41" x="587" y="651"/><use href="#s30" x="593" y="651"/><use href="#s44" x="599" y="651"/><use href="#s37" x="605" y="651"/><use href="#s44" x="611" y="651"/><use href="#s37" x="617" y="651"/>
<use href="#pre" x="527" y="662"/><use href="#s41" x="587" y="662"/><use href="#s31" x="593" y="662"/><use href="#s41" x="599" y="662"/><use href="#s50" x="605" y="662"/><use href="#s57" x="611" y="662"/><use href="#s38" x="617" y="662"/>
<use href="#pre" x="527" y="673"/><use href="#s43" x="587" y="673"/><use href="#s36" x="593" y="673"/><use href="#s52" x="599" y="673"/><use href="#s47" x="605" y="673"/><use href="#s35" x="611" y="673"/><use href="#s37" x="617" y="673"/>
<use href="#pre" x="527" y="684"/><use href="#s42" x="587" y="684"/><use href="#s39" x="593" y="684"/><use href="#s44" x="599" y="684"/><use href="#s31" x="605" y="684"/><use href="#s59" x="611" y="684"/><use href="#s33" x="617" y="684"/>
<use href="#pre" x="527" y="695"/><use href="#s51" x="587" y="695"/><use href="#s35" x="593" y="695"/><use href="#s51" x="599" y="695"/><use href="#s56" x="605" y="695"/><use href="#s52" x="611" y="695"/><use href="#s39" x="617" y="695"/>
<use href="#pre" x="527" y="706"/><use href="#s42" x="587" y="706"/><use href="#s33" x="593" y="706"/><use href="#s45" x="599" y="706"/><use href="#s32" x="605" y="706"/><use href="#s4d" x="611" y="706"/><use href="#s33" x="617" y="706"/>
<use href="#pre" x="527" y="717"/><use href="#s43" x="587" y="717"/><use href="#s37" x="593" y="717"/><use href="#s50" x="599" y="717"/><use href="#s31" x="605" y="717"/><use href="#s30" x="611" y="717"/><use href="#s32" x="617" y="717"/>
<use href="#pre" x="527" y="728"/><use href="#s51" x="587" y="728"/><use href="#s32" x="593" y="728"/><use href="#s42" x="599" y="728"/><use href="#s4b" x="605" y="728"/><use href="#s57" x="611" y="728"/><use href="#s37" x="617" y="728"/>
<use href="#pre" x="527" y="739"/><use href="#s51" x="587" y="739"/><use href="#s37" x="593" y="739"/><use href="#s34" x="599" y="739"/><use href="#s43" x="605" y="739"/><use href="#s4d" x="611" y="739"/><use href="#s32" x="617" y="739"/>
<use href="#pre" x="527" y="750"/><use href="#s51" x="587" y="750"/><use href="#s33" x="593" y="750"/><use href="#s39" x="599" y="750"/><use href="#s55" x="605" y="750"/><use href="#s43" x="611" y="750"/><use href="#s34" x="617" y="750"/>
<use href="#pre" x="527" y="761"/><use href="#s41" x="587" y="761"/><use href="#s33" x="593" y="761"/><use href="#s57" x="599" y="761"/><use href="#s4c" x="605" y="761"/><use href="#s39" x="611" y="761"/><use href="#s34" x="617" y="761"/>
<use href="#pre" x="527" y="772"/><use href="#s41" x="587" y="772"/><use href="#s38" x="593" y="772"/><use href="#s45" x="599" y="772"/><use href="#s55" x="605" y="772"/><use href="#s35" x="611" y="772"/><use href="#s35" x="617" y="772"/>
<use href="#pre" x="527" y="783"/><use href="#s55" x="587" y="783"/><use href="#s50" x="593" y="783"/><use href="#s49" x="599" y="783"/><use href="#s30" x="605" y="783"/><use href="#s30" x="611" y="783"/><use href="#s30" x="617" y="783"/><use href="#s2e" x="623" y="783"/><use href="#s2e" x="629" y="783"/>
<use href="#pre" x="527" y="794"/><use href="#s51" x="587" y="794"/><use href="#s36" x="593" y="794"/><use href="#s50" x="599" y="794"/><use href="#s38" x="605" y="794"/><use href="#s46" x="611" y="794"/><use href="#s37" x="617" y="794"/>
<use href="#pre" x="527" y="805"/><use href="#s51" x="587" y="805"/><use href="#s33" x="593" y="805"/><use href="#s49" x="599" y="805"/><use href="#s43" x="605" y="805"/><use href="#s4a" x="611" y="805"/><use href="#s35" x="617" y="805"/>
<use href="#pre" x="527" y="816"/><use href="#s51" x="587" y="816"/><use href="#s37" x="593" y="816"/><use href="#s53" x="599" y="816"/><use href="#s5a" x="605" y="816"/><use href="#s41" x="611" y="816"/><use href="#s30" x="617" y="816"/>
<use href="#pre" x="527" y="827"/><use href="#s42" x="587" y="827"/><use href="#s31" x="593" y="827"/><use href="#s4a" x="599" y="827"/><use href="#s32" x="605" y="827"/><use href="#s50" x="611" y="827"/><use href="#s37" x="617" y="827"/>
<use href="#pre" x="527" y="838"/><use href="#s51" x="587" y="838"/><use href="#s38" x="593" y="838"/><use href="#s32" x="599" y="838"/><use href="#s57" x="605" y="838"/><use href="#s59" x="611" y="838"/><use href="#s33" x="617" y="838"/>
<use href="#pre" x="527" y="849"/><use href="#s51" x="587" y="849"/><use href="#s30" x="593" y="849"/><use href="#s41" x="599" y="849"/><use href="#s47" x="605" y="849"/><use href="#s56" x="611" y="849"/><use href="#s31" x="617" y="849"/>
<use href="#pre" x="527" y="860"/><use href="#s51" x="587" y="860"/><use href="#s34" x="593" y="860"/><use href="#s37" x="599" y="860"/><use href="#s39" x="605" y="860"/><use href="#s58" x="611" y="860"/><use href="#s34" x="617" y="860"/>
<use href="#pre" x="527" y="871"/><use href="#s51" x="587" y="871"/><use href="#s34" x="593" y="871"/><use href="#s43" x="599" y="871"/><use href="#s31" x="605" y="871"/><use href="#s39" x="611" y="871"/><use href="#s37" x="617" y="871"/>
<use href="#pre" x="527" y="882"/><use href="#s43" x="587" y="882"/><use href="#s36" x="593" y="882"/><use href="#s4d" x="599" y="882"/><use href="#s4e" x="605" y="882"/><use href="#s52" x="611" y="882"/><use href="#s33" x="617" y="882"/>
<use href="#pre" x="527" y="893"/><use href="#s51" x="587" y="893"/><use href="#s31" x="593" y="893"/><use href="#s31" x="599" y="893"/><use href="#s38" x="605" y="893"/><use href="#s46" x="611" y="893"/><use href="#s35" x="617" y="893"/>
<use href="#pre" x="527" y="904"/><use href="#s51" x="587" y="904"/><use href="#s30" x="593" y="904"/><use href="#s48" x="599" y="904"/><use href="#s52" x="605" y="904"/><use href="#s41" x="611" y="904"/><use href="#s30" x="617" y="904"/>
<use href="#pre" x="527" y="915"/><use href="#s51" x="587" y="915"/><use href="#s30" x="593" y="915"/><use href="#s48" x="599" y="915"/><use href="#s4d" x="605" y="915"/><use href="#s49" x="611" y="915"/><use href="#s38" x="617" y="915"/>
<use href="#pre" x="527" y="926"/><use href="#s41" x="587" y="926"/><use href="#s30" x="593" y="926"/><use href="#s4b" x="599" y="926"/><use href="#s53" x="605" y="926"/><use href="#s57" x="611" y="926"/><use href="#s37" x="617" y="926"/>
<use href="#pre" x="527" y="937"/><use href="#s42" x="587" y="937"/><use href="#s39" x="593" y="937"/><use href="#s49" x="599" y="937"/><use href="#s47" x="605" y="937"/><use href="#s32" x="611" y="937"/><use href="#s36" x="617" y="937"/>
<use href="#pre" x="527" y="948"/><use href="#s41" x="587" y="948"/><use href="#s30" x="593" y="948"/><use href="#s43" x="599" y="948"/><use href="#s51" x="605" y="948"/><use href="#s39" x="611" y="948"/><use href="#s35" x="617" y="948"/>
<use href="#pre" x="527" y="959"/><use href="#s51" x="587" y="959"/><use href="#s31" x="593" y="959"/><use href="#s32" x="599" y="959"/><use href="#s4a" x="605" y="959"/><use href="#s57" x="611" y="959"/><use href="#s32" x="617" y="959"/>
<use href="#pre" x="527" y="970"/><use href="#s51" x="587" y="970"/><use href="#s38" x="593" y="970"/><use href="#s38" x="599" y="970"/><use href="#s43" x="605" y="970"/><use href="#s59" x="611" y="970"/><use href="#s39" x="617" y="970"/>
<use href="#pre" x="527" y="981"/><use href="#s42" x="587" y="981"/><use href="#s30" x="593" y="981"/><use href="#s4b" x="599" y="981"/><use href="#s4d" x="605" y="981"/><use href="#s36" x="611" y="981"/><use href="#s35" x="617" y="981"/>
<use href="#pre" x="527" y="992"/><use href="#s41" x="587" y="992"/><use href="#s35" x="593" y="992"/><use href="#s57" x="599" y="992"/><use href="#s41" x="605" y="992"/><use href="#s37" x="611" y="992"/><use href="#s34" x="617" y="992"/>
<use href="#pre" x="527" y="1003"/><use href="#s51" x="587" y="1003"/><use href="#s34" x="593" y="1003"/><use href="#s4b" x="599" y="1003"/><use href="#s4a" x="605" y="1003"/><use href="#s50" x="611" y="1003"/><use href="#s36" x="617" y="1003"/>
<use href="#pre" x="527" y="1014"/><use href="#s51" x="587" y="1014"/><use href="#s31" x="593" y="1014"/><use href="#s49" x="599" y="1014"/><use href="#s33" x="605" y="1014"/><use href="#s51" x="611" y="1014"/><use href="#s30" x="617" y="1014"/>
<use href="#pre" x="527" y="1025"/><use href="#s43" x="587" y="1025"/><use href="#s36" x="593" y="1025"/><use href="#s45" x="599" y="1025"/><use href="#s36" x="605" y="1025"/><use href="#s4d" x="611" y="1025"/><use href="#s30" x="617" y="1025"/>
<use href="#pre" x="527" y="1036"/><use href="#s42" x="587" y="1036"/><use href="#s38" x="593" y="1036"/><use href="#s45" x="599" y="1036"/><use href="#s42" x="605" y="1036"/><use href="#s39" x="611" y="1036"/><use href="#s30" x="617" y="1036"/>
<use href="#pre" x="527" y="1047"/><use href="#s43" x="587" y="1047"/><use href="#s31" x="593" y="1047"/><use href="#s5a" x="599" y="1047"/><use href="#s53" x="605" y="1047"/><use href="#s58" x="611" y="1047"/><use href="#s31" x="617" y="1047"/>
<use href="#pre" x="527" y="1058"/><use href="#s43" x="587" y="1058"/><use href="#s30" x="593" y="1058"/><use href="#s4e" x="599" y="1058"/><use href="#s39" x="605" y="1058"/><use href="#s4c" x="611" y="1058"/><use href="#s31" x="617" y="1058"/>
<use href="#pre" x="527" y="1069"/><use href="#s41" x="587" y="1069"/><use href="#s34" x="593" y="1069"/><use href="#s42" x="599" y="1069"/><use href="#s53" x="605" y="1069"/><use href="#s31" x="611" y="1069"/><use href="#s30" x="617" y="1069"/>
<use href="#pre" x="527" y="1080"/><use href="#s41" x="587" y="1080"/><use href="#s30" x="593" y="1080"/><use href="#s58" x="599" y="1080"/><use href="#s5a" x="605" y="1080"/><use href="#s38" x="611" y="1080"/><use href="#s31" x="617" y="1080"/>
<use href="#pre" x="527" y="1091"/><use href="#s43" x="587" y="1091"/><use href="#s35" x="593" y="1091"/><use href="#s46" x="599" y="1091"/><use href="#s55" x="605" y="1091"/><use href="#s47" x="611" y="1091"/><use href="#s37" x="617" y="1091"/>
<use href="#pre" x="527" y="1102"/><use href="#s41" x="587" y="1102"/><use href="#s36" x="593" y="1102"/><use href="#s57" x="599" y="1102"/><use href="#s53" x="605" y="1102"/><use href="#s51" x="611" y="1102"/><use href="#s36" x="617" y="1102"/>
<use href="#pre" x="527" y="1113"/><use href="#s42" x="587" y="1113"/><use href="#s35" x="593" y="1113"/><use href="#s45" x="599" y="1113"/><use href="#s46" x="605" y="1113"/><use href="#s56" x="611" y="1113"/><use href="#s35" x="617" y="1113"/>
<use href="#pre" x="527" y="1124"/><use href="#s43" x="587" y="1124"/><use href="#s38" x="593" y="1124"/><use href="#s50" x="599" y="1124"/><use href="#s4a" x="605" y="1124"/><use href="#s53" x="611" y="1124"/><use href="#s35" x="617" y="1124"/>
<use href="#pre" x="527" y="1135"/><use href="#s43" x="587" y="1135"/><use href="#s37" x="593" y="1135"/><use href="#s49" x="599" y="1135"/><use href="#s30" x="605" y="1135"/><use href="#s4b" x="611" y="1135"/><use href="#s30" x="617" y="1135"/>
<use href="#pre" x="527" y="1146"/><use href="#s41" x="587" y="1146"/><use href="#s33" x="593" y="1146"/><use href="#s49" x="599" y="1146"/><use href="#s4b" x="605" y="1146"/><use href="#s4a" x="611" y="1146"/><use href="#s36" x="617" y="1146"/>
<use href="#pre" x="527" y="1157"/><use href="#s41" x="587" y="1157"/><use href="#s39" x="593" y="1157"/><use href="#s47" x="599" y="1157"/><use href="#s36" x="605" y="1157"/><use href="#s54" x="611" y="1157"/><use href="#s38" x="617" y="1157"/>
<use href="#pre" x="527" y="1168"/><use href="#s42" x="587" y="1168"/><use href="#s31" x="593" y="1168"/><use href="#s4b" x="599" y="1168"/><use href="#s45" x="605" y="1168"/><use href="#s4c" x="611" y="1168"/><use href="#s34" x="617" y="1168"/>
<use href="#pre" x="527" y="1179"/><use href="#s41" x="587" y="1179"/><use href="#s34" x="593" y="1179"/><use href="#s59" x="599" y="1179"/><use href="#s33" x="605" y="1179"/><use href="#s37" x="611" y="1179"/><use href="#s33" x="617" y="1179"/>
<use href="#pre" x="527" y="1190"/><use href="#s41" x="587" y="1190"/><use href="#s33" x="593" y="1190"/><use href="#s51" x="599" y="1190"/><use href="#s41" x="605" y="1190"/><use href="#s5a" x="611" y="1190"/><use href="#s37" x="617" y="1190"/>
<use href="#pre" x="527" y="1201"/><use href="#s41" x="587" y="1201"/><use href="#s33" x="593" y="1201"/><use href="#s44" x="599" y="1201"/><use href="#s30" x="605" y="1201"/><use href="#s50" x="611" y="1201"/><use href="#s36" x="617" y="1201"/>
<use href="#pre" x="527" y="1212"/><use href="#s51" x="587" y="1212"/><use href="#s33" x="593" y="1212"/><use href="#s4b" x="599" y="1212"/><use href="#s4a" x="605" y="1212"/><use href="#s47" x="611" y="1212"/><use href="#s30" x="617" y="1212"/>
<use href="#pre" x="527" y="1223"/><use href="#s51" x="587" y="1223"/><use href="#s33" x="593" y="1223"/><use href="#s41" x="599" y="1223"/><use href="#s35" x="605" y="1223"/><use href="#s54" x="611" y="1223"/><use href="#s30" x="617" y="1223"/>
<use href="#pre" x="527" y="1234"/><use href="#s51" x="587" y="1234"/><use href="#s33" x="593" y="1234"/><use href="#s49" x="599" y="1234"/><use href="#s46" x="605" y="1234"/><use href="#s51" x="611" y="1234"/><use href="#s35" x="617" y="1234"/>
<use href="#pre" x="527" y="1245"/><use href="#s55" x="587" y="1245"/><use href="#s50" x="593" y="1245"/><use href="#s49" x="599" y="1245"/><use href="#s30" x="605" y="1245"/><use href="#s30" x="611" y="1245"/><use href="#s30" x="617" y="1245"/><use href="#s2e" x="623" y="1245"/><use href="#s2e" x="629" y="1245"/>
<use href="#pre" x="527" y="1256"/><use href="#s42" x="587" y="1256"/><use href="#s39" x="593" y="1256"/><use href="#s4d" x="599" y="1256"/><use href="#s31" x="605" y="1256"/><use href="#s4e" x="611" y="1256"/><use href="#s33" x="617" y="1256"/>
<use href="#pre" x="527" y="1267"/><use href="#s42" x="587" y="1267"/><use href="#s37" x="593" y="1267"/><use href="#s4b" x="599" y="1267"/><use href="#s38" x="605" y="1267"/><use href="#s48" x="611" y="1267"/><use href="#s37" x="617" y="1267"/>
<use href="#pre" x="527" y="1278"/><use href="#s43" x="587" y="1278"/><use href="#s38" x="593" y="1278"/><use href="#s58" x="599" y="1278"/><use href="#s34" x="605" y="1278"/><use href="#s48" x="611" y="1278"/><use href="#s31" x="617" y="1278"/>
<use href="#pre" x="527" y="1289"/><use href="#s42" x="587" y="1289"/><use href="#s35" x="593" y="1289"/><use href="#s57" x="599" y="1289"/><use href="#s4d" x="605" y="1289"/><use href="#s42" x="611" y="1289"/><use href="#s33" x="617" y="1289"/>
<use href="#pre" x="527" y="1300"/><use href="#s41" x="587" y="1300"/><use href="#s36" x="593" y="1300"/><use href="#s44" x="599" y="1300"/><use href="#s45" x="605" y="1300"/><use href="#s47" x="611" y="1300"/><use href="#s36" x="617" y="1300"/>
<use href="#pre" x="527" y="1311"/><use href="#s51" x="587" y="1311"/><use href="#s33" x="593" y="1311"/><use href="#s31" x="599" y="1311"/><use href="#s46" x="605" y="1311"/><use href="#s49" x="611" y="1311"/><use href="#s36" x="617" y="1311"/>
<use href="#pre" x="527" y="1322"/><use href="#s41" x="587" y="1322"/><use href="#s38" x="593" y="1322"/><use href="#s46" x="599" y="1322"/><use href="#s52" x="605" y="1322"/><use href="#s46" x="611" y="1322"/><use href="#s31" x="617" y="1322"/>
<use href="#pre" x="527" y="1333"/><use href="#s51" x="587" y="1333"/><use href="#s38" x="593" y="1333"/><use href="#s45" x="599" y="1333"/><use href="#s41" x="605" y="1333"/><use href="#s42" x="611" y="1333"/><use href="#s36" x="617" y="1333"/>
<use href="#pre" x="527" y="1344"/><use href="#s51" x="587" y="1344"/><use href="#s30" x="593" y="1344"/><use href="#s38" x="599" y="1344"/><use href="#s38" x="605" y="1344"/><use href="#s43" x="611" y="1344"/><use href="#s33" x="617" y="1344"/>
<use href="#pre" x="527" y="1355"/><use href="#s41" x="587" y="1355"/><use href="#s34" x="593" y="1355"/><use href="#s47" x="599" y="1355"/><use href="#s32" x="605" y="1355"/><use href="#s50" x="611" y="1355"/><use href="#s30" x="617" y="1355"/>
<use href="#s4c" x="10" y="1374"/><use href="#s61" x="16" y="1374"/><use href="#s72" x="22" y="1374"/><use href="#s67" x="28" y="1374"/><use href="#s65" x="34" y="1374"/><use href="#s67" x="46" y="1374"/><use href="#s61" x="52" y="1374"/><use href="#s70" x="58" y="1374"/><use href="#s73" x="64" y="1374"/><use href="#s3a" x="70" y="1374"/>
<path fill="#f4ec68" d="M82 1378h1v2h1v3h1v2h-5v-2h1v-3h1z"/>
<use href="#s28" x="88" y="1374"/><use href="#s69" x="94" y="1374"/><use href="#s6e" x="100" y="1374"/><use href="#s51" x="112" y="1374"/><use href="#s75" x="118" y="1374"/><use href="#s65" x="124" y="1374"/><use href="#s72" x="130" y="1374"/><use href="#s79" x="136" y="1374"/><use href="#s29" x="142" y="1374"/><use href="#s2f" x="148" y="1374"/>
<rect x="155" y="1381" width="6" height="1" fill="#00c8c8"/>
<use href="#s28" x="166" y="1374"/><use href="#s69" x="172" y="1374"/><use href="#s6e" x="178" y="1374"/><use href="#s53" x="190" y="1374"/><use href="#s75" x="196" y="1374"/><use href="#s62" x="202" y="1374"/><use href="#s6a" x="208" y="1374"/><use href="#s65" x="214" y="1374"/><use href="#s63" x="220" y="1374"/><use href="#s74" x="226" y="1374"/><use href="#s29" x="232" y="1374"/>
<rect x="438" y="1377" width="1" height="9" fill="#333300"/>
<rect x="456" y="1377" width="1" height="9" fill="#333300"/>
<rect x="439" y="1380" width="17" height="3" fill="#00c8c8"/>
<use href="#s3d" x="460" y="1374"/><use href="#s31" x="466" y="1374"/><use href="#s30" x="472" y="1374"/><use href="#s30" x="478" y="1374"/><use href="#s63" x="484" y="1374"/><use href="#s68" x="490" y="1374"/><use href="#s61" x="496" y="1374"/><use href="#s72" x="502" y="1374"/><use href="#s2e" x="508" y="1374"/>
</svg>
</body></html>
